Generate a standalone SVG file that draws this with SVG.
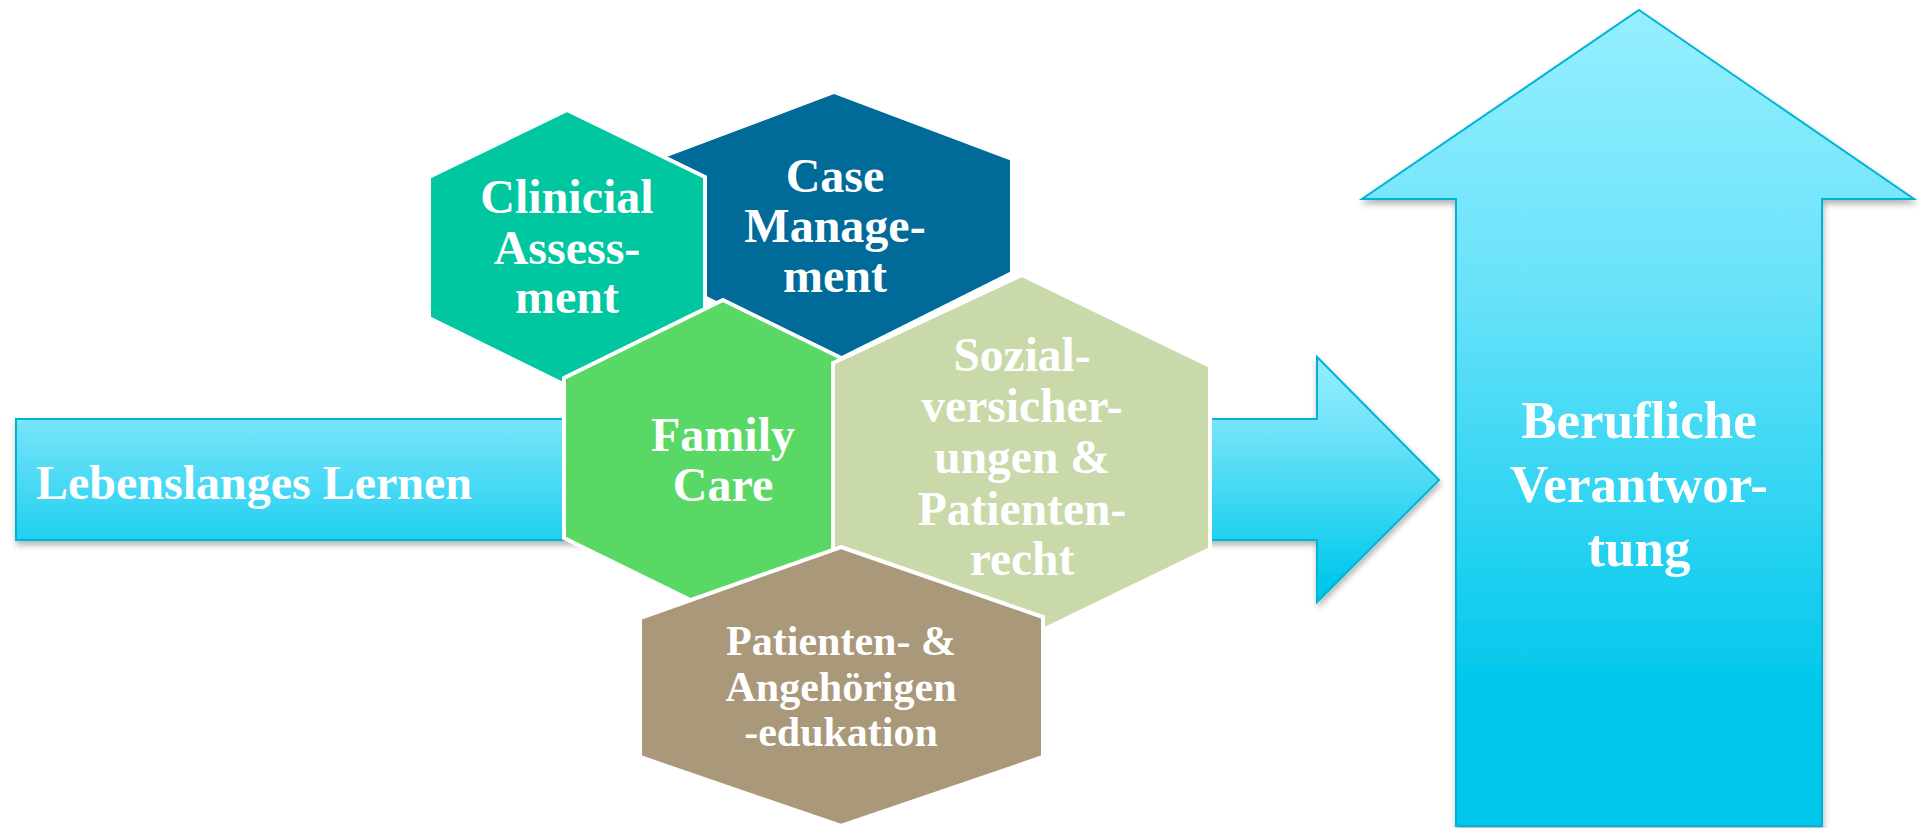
<svg xmlns="http://www.w3.org/2000/svg" width="1918" height="828" viewBox="0 0 1918 828">
<defs>
<linearGradient id="gH" x1="0" y1="0" x2="0" y2="1">
<stop offset="0" stop-color="#94EEFE"/>
<stop offset="0.25" stop-color="#78E5FA"/>
<stop offset="0.5" stop-color="#4DDAF5"/>
<stop offset="0.75" stop-color="#20D0F0"/>
<stop offset="0.92" stop-color="#00C7EB"/>
<stop offset="1" stop-color="#00C7EB"/>
</linearGradient>
<linearGradient id="gV" x1="0" y1="0" x2="0" y2="1">
<stop offset="0" stop-color="#95EFFF"/>
<stop offset="0.35" stop-color="#68E2F9"/>
<stop offset="0.83" stop-color="#00C8EC"/>
<stop offset="1" stop-color="#00C8EC"/>
</linearGradient>
<filter id="sh" x="-5%" y="-10%" width="110%" height="125%">
<feDropShadow dx="1" dy="4" stdDeviation="3" flood-color="#000" flood-opacity="0.3"/>
</filter>
</defs>
<style>
.arr{stroke:#00B4D6;stroke-width:2;filter:url(#sh)}
.hex{stroke:#fff;stroke-width:4;stroke-linejoin:miter}
.t{font-family:"Liberation Serif","Times New Roman",serif;font-weight:bold;fill:#fff;text-anchor:middle}
</style>
<g id="connectors">
<polygon id="arrow-lernen" class="arr" fill="url(#gH)" points="16,419 1317,419 1317,357 1439,480 1317,602 1317,540 16,540"/>
<polygon id="arrow-verantwortung" class="arr" fill="url(#gV)" points="1639,10 1914,199 1822,199 1822,826 1456,826 1456,199 1362,199"/>
</g>
<g id="lernen-label">
<text class="t" x="36" y="499" font-size="48" style="text-anchor:start">Lebenslanges Lernen</text>
</g>
<g id="hex-case">
<polygon class="hex" fill="#006A99" points="834,92 1012,159 1012,273 834,362 656,273 656,159"/>
<text class="t" x="835" font-size="48"><tspan x="835" y="192">Case</tspan><tspan x="835" y="242">Manage-</tspan><tspan x="835" y="292">ment</tspan></text>
</g>
<g id="hex-clinical">
<polygon class="hex" fill="#00C7A0" points="567,110 705,177 705,318 567,386 429,318 429,177"/>
<text class="t" x="567" font-size="48"><tspan x="567" y="213">Clinicial</tspan><tspan x="567" y="264">Assess-</tspan><tspan x="567" y="313">ment</tspan></text>
</g>
<g id="hex-family">
<polygon class="hex" fill="#59D865" points="723,300 882,378 882,538 723,616 564,538 564,378"/>
<text class="t" x="723" font-size="48"><tspan x="723" y="451">Family</tspan><tspan x="723" y="501">Care</tspan></text>
</g>
<g id="hex-sozial">
<polygon class="hex" fill="#C9D9AA" points="1022,275 1210,366 1210,549 1022,640 833,549 833,363"/>
<text class="t" x="1022" font-size="47.5"><tspan x="1022" y="371">Sozial-</tspan><tspan x="1022" y="422">versicher-</tspan><tspan x="1022" y="473">ungen &amp;</tspan><tspan x="1022" y="525">Patienten-</tspan><tspan x="1022" y="575">recht</tspan></text>
</g>
<g id="hex-edukation">
<polygon class="hex" fill="#A99879" points="841,547 1043,617 1043,757 841,826 640,757 640,618"/>
<text class="t" x="841" font-size="42"><tspan x="841" y="655">Patienten- &amp;</tspan><tspan x="841" y="701">Angehörigen</tspan><tspan x="841" y="746">-edukation</tspan></text>
</g>
<g id="verantwortung-label">
<text class="t" x="1639" font-size="53"><tspan x="1639" y="438">Berufliche</tspan><tspan x="1639" y="502">Verantwor-</tspan><tspan x="1639" y="566">tung</tspan></text>
</g>
</svg>
